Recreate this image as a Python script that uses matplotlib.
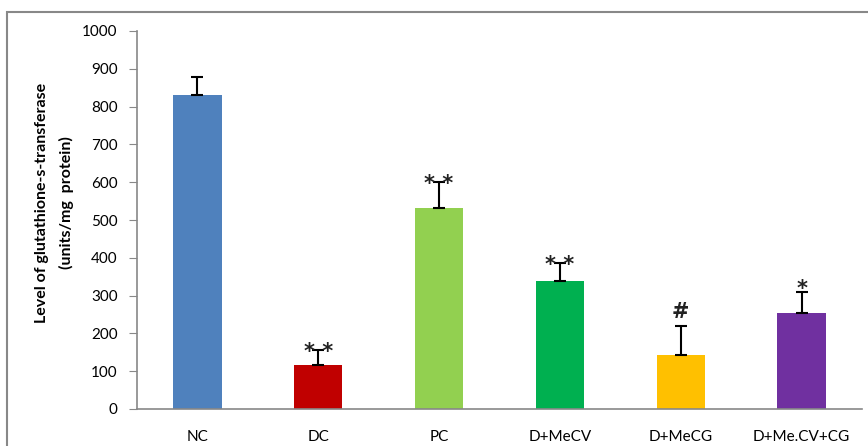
import matplotlib
matplotlib.use("Agg")
import matplotlib.pyplot as plt
from matplotlib.patches import Rectangle

plt.rcParams['font.family'] = ['Lato', 'DejaVu Sans']

# group names, mean GST activity, upper error and significance marks
groups = ["NC", "DC", "PC", "D+MeCV", "D+MeCG", "D+Me.CV+CG"]
gst_level = [831, 116, 531, 339, 142, 253]
gst_err = [46, 40, 70, 48, 78, 56]
marks = ["", "**", "**", "**", "#", "*"]
bar_colors = ["#4F81BD", "#C00000", "#92D050", "#00B050", "#FFC000", "#7030A0"]

fig = plt.figure(figsize=(8.68, 4.46), dpi=100)
ax = fig.add_axes([137/868, 1 - 409/446, 725/868, 378/446])

x = list(range(len(groups)))
ax.bar(x, gst_level, width=0.4, color=bar_colors, zorder=2)
# only the upper half of each error bar is drawn
ax.errorbar(x, gst_level, yerr=[[0]*len(groups), gst_err], fmt='none',
            ecolor='black', elinewidth=1.5, capsize=4, capthick=1.5, zorder=3)

for xi, v, e, m in zip(x, gst_level, gst_err, marks):
    top = v + e
    if m == "":
        continue
    if m == "#":
        ax.text(xi, top + 20, m, ha='center', va='baseline', fontsize=15,
                fontweight='bold', family=['DejaVu Sans'], color='#222222')
    elif m == "*":
        ax.text(xi, top - 8, m, ha='center', va='baseline', fontsize=15,
                fontweight='bold', family=['DejaVu Sans'], color='#222222')
    else:
        # the two stars sit either side of the cap
        ax.text(xi, top - 22, "* *", ha='center', va='baseline', fontsize=15,
                fontweight='bold', family=['DejaVu Sans'], color='#222222')

ax.set_xlim(-0.5, 5.5)
ax.set_ylim(0, 1000)
ax.set_yticks(range(0, 1001, 100))
ax.set_xticks(x)
ax.set_xticklabels(groups)
ax.tick_params(axis='y', length=6, color='#888888', labelsize=11, pad=8)
ax.tick_params(axis='x', length=0, labelsize=11, pad=15)

for s in ['top', 'right']:
    ax.spines[s].set_visible(False)
for s in ['left', 'bottom']:
    ax.spines[s].set_color('#888888')
    ax.spines[s].set_linewidth(1.2)

fig.text(42/868, 1 - 203/446, "Level of glutathione-s-transferase", rotation=90,
         ha='center', va='center', fontsize=11.5, fontweight='bold')
fig.text(66/868, 1 - 203/446, "(units/mg  protein)", rotation=90,
         ha='center', va='center', fontsize=11.5, fontweight='bold')

# thin gray frame along the top and left edges
fig.patches.append(Rectangle((7/868, -0.1), 1.0, 1 - 12/446 + 0.1,
                             transform=fig.transFigure, fill=False,
                             edgecolor='#888888', linewidth=1.5))

fig.savefig("out.png", dpi=100)
